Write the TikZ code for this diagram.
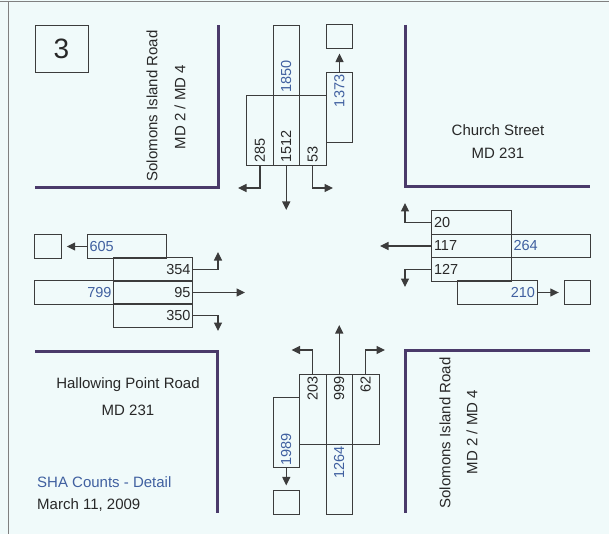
\documentclass[tikz,border=0pt]{standalone}
\usepackage{fontspec}
\setmainfont{Liberation Sans}
\usetikzlibrary{arrows.meta}
\definecolor{bgcyan}{RGB}{240,250,250}
\definecolor{roadpurple}{RGB}{74,58,106}
\definecolor{boxgray}{RGB}{60,60,60}
\definecolor{cntblue}{RGB}{64,96,160}
\definecolor{txtgray}{RGB}{40,40,40}
\begin{document}
\begin{tikzpicture}[x=1pt, y=-1pt,
    every node/.style={font=\fontsize{14.5}{17}\selectfont, text=txtgray},
    vbox/.style={draw=boxgray, line width=0.9pt, minimum width=26.5pt, minimum height=70pt, inner sep=0pt},
    hbox/.style={draw=boxgray, line width=0.9pt, minimum width=79.5pt, minimum height=23.3pt, inner sep=0pt},
    sqbox/.style={draw=boxgray, line width=0.9pt, minimum width=26.5pt, minimum height=23.3pt, inner sep=0pt},
    cnt/.style={inner sep=2.5pt},
    incnt/.style={inner sep=2.5pt, text=cntblue},
    flow/.style={draw=boxgray, line width=1.2pt, -{Triangle[length=8.5pt,width=8pt]}},
    road/.style={draw=roadpurple, line width=3pt},
    lbl/.style={font=\fontsize{15}{18}\selectfont}]
        \fill[bgcyan] (0,0) rectangle (609,534);
        \useasboundingbox (0,0) rectangle (609,534);
        \draw[gray, line width=1pt] (0,1.5) -- (609,1.5);
        \draw[gray, line width=1pt] (8,1.5) -- (8,534);
        \node[draw=boxgray, line width=0.9pt, minimum width=53pt, minimum height=47pt, font=\fontsize{28}{32}\selectfont] (sheet) at (61.5,48.5) {3};

        \draw[road] (35,188) -- (218,188) -- (218,25);
        \draw[road] (405,25) -- (405,187) -- (590,187);
        \draw[road] (35,351) -- (217,351) -- (217,513);
        \draw[road] (590,350) -- (405,350) -- (405,513);

        \node[lbl, rotate=90] (nwroad) at (152,106) {Solomons Island Road};
        \node[lbl, rotate=90] (nwmd) at (180,107) {MD 2 / MD 4};
        \node[lbl] (neroad) at (498,130) {Church Street};
        \node[lbl] (nemd) at (498,153) {MD 231};
        \node[lbl] (swroad) at (128,385) {Hallowing Point Road};
        \node[lbl] (swmd) at (128,410) {MD 231};
        \node[lbl, rotate=90] (seroad) at (445,433) {Solomons Island Road};
        \node[lbl, rotate=90] (semd) at (472,432) {MD 2 / MD 4};
        \node[lbl, text=cntblue, anchor=west, inner sep=0pt] (title) at (37,482) {SHA Counts - Detail};
        \node[lbl, anchor=west, inner sep=0pt] (date) at (37,505) {March 11, 2009};

        % north approach
        \node[vbox] (n1850) at (286.25,60) {};
        \node[vbox] (n285) at (260,130) {};
        \node[vbox] (n1512) at (286.25,130) {};
        \node[vbox] (n53) at (312.75,130) {};
        \node[vbox] (n1373) at (339.5,107.5) {};
        \node[sqbox] (nsq) at (339.5,36.5) {};
        \node[incnt, rotate=90, anchor=west] (t1850) at (n1850.south) {1850};
        \node[cnt, rotate=90, anchor=west] (t285) at (n285.south) {285};
        \node[cnt, rotate=90, anchor=west] (t1512) at (n1512.south) {1512};
        \node[cnt, rotate=90, anchor=west] (t53) at (n53.south) {53};
        \node[incnt, rotate=90, anchor=east] (t1373) at (n1373.north) {1373};
        \coordinate (nL) at (238,188);
        \coordinate (nT) at (286.25,210);
        \coordinate (nR) at (333,188);
        \draw[flow] (n285.south) |- (nL);
        \draw[flow] (n1512.south) -- (nT);
        \draw[flow] (n53.south) |- (nR);
        \draw[flow, shorten >=5pt] (n1373.north) -- (nsq.south);

        % east approach
        \node[hbox] (e20) at (471.5,222.5) {};
        \node[hbox] (e117) at (471.5,246) {};
        \node[hbox] (e264) at (551,246) {};
        \node[hbox] (e127) at (471.5,269.5) {};
        \node[hbox] (e210) at (497.5,292.5) {};
        \node[sqbox] (esq) at (577.5,292.5) {};
        \node[cnt, anchor=west] (t20) at (e20.west) {20};
        \node[cnt, anchor=west] (t117) at (e117.west) {117};
        \node[cnt, anchor=west] (t127) at (e127.west) {127};
        \node[incnt, anchor=west] (t264) at (e264.west) {264};
        \node[incnt, anchor=east] (t210) at (e210.east) {210};
        \coordinate (eL) at (405,203);
        \coordinate (eT) at (380,246);
        \coordinate (eR) at (405,287);
        \draw[flow] (e20.west) -| (eL);
        \draw[flow] (e117.west) -- (eT);
        \draw[flow] (e127.west) -| (eR);
        \draw[flow, shorten >=5pt] (e210.east) -- (esq.west);

        % west approach
        \node[hbox] (w605) at (127,246.5) {};
        \node[sqbox] (wsq) at (48,246.5) {};
        \node[hbox] (w354) at (153,269.5) {};
        \node[hbox] (w799) at (74,292.5) {};
        \node[hbox] (w95) at (153,292.5) {};
        \node[hbox] (w350) at (153,315.5) {};
        \node[incnt, anchor=west] (t605) at (w605.west) {605};
        \node[cnt, anchor=east] (t354) at (w354.east) {354};
        \node[incnt, anchor=east] (t799) at (w799.east) {799};
        \node[cnt, anchor=east] (t95) at (w95.east) {95};
        \node[cnt, anchor=east] (t350) at (w350.east) {350};
        \coordinate (wL) at (218,252);
        \coordinate (wT) at (245,292.5);
        \coordinate (wR) at (218,331);
        \draw[flow, shorten >=5pt] (w605.west) -- (wsq.east);
        \draw[flow] (w354.east) -| (wL);
        \draw[flow] (w95.east) -- (wT);
        \draw[flow] (w350.east) -| (wR);

        % south approach
        \node[vbox] (s203) at (312.75,409) {};
        \node[vbox] (s999) at (339.25,409) {};
        \node[vbox] (s62) at (365.75,409) {};
        \node[vbox] (s1264) at (339.25,479) {};
        \node[vbox] (s1989) at (286.25,432.5) {};
        \node[sqbox] (ssq) at (286.25,502.5) {};
        \node[cnt, rotate=90, anchor=east] (t203) at (s203.north) {203};
        \node[cnt, rotate=90, anchor=east] (t999) at (s999.north) {999};
        \node[cnt, rotate=90, anchor=east] (t62) at (s62.north) {62};
        \node[incnt, rotate=90, anchor=east] (t1264) at (s1264.north) {1264};
        \node[incnt, rotate=90, anchor=west] (t1989) at (s1989.south) {1989};
        \coordinate (sL) at (291.5,350);
        \coordinate (sT) at (339.25,325);
        \coordinate (sR) at (385,350);
        \draw[flow] (s203.north) |- (sL);
        \draw[flow] (s999.north) -- (sT);
        \draw[flow] (s62.north) |- (sR);
        \draw[flow, shorten >=5pt] (s1989.south) -- (ssq.north);
    \end{tikzpicture}
\end{document}
